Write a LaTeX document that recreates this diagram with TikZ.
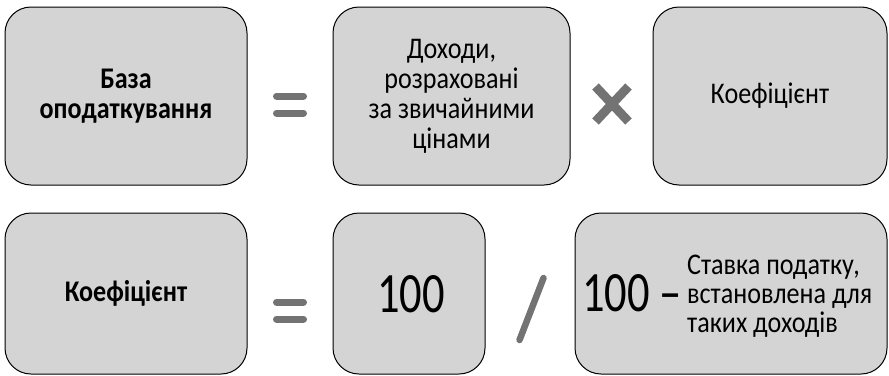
\documentclass[tikz,border=0pt]{standalone}
\usepackage{fontspec}
\setmainfont{Carlito}[FakeStretch=0.87]
\newfontfamily\digfont{Carlito}[FakeStretch=0.78]
\definecolor{boxfill}{RGB}{212,212,212}
\definecolor{opgray}{RGB}{115,115,115}
\begin{document}
\begin{tikzpicture}[x=1pt,y=-1pt,
  box/.style={draw=black, line width=1pt, fill=boxfill, rounded corners=26pt,
    inner sep=0pt, align=center, font=\fontsize{30}{30}\selectfont},
  boldtxt/.style={font=\fontsize{30}{30}\selectfont\bfseries},
  bigdig/.style={inner sep=0pt, font=\digfont\fontsize{57}{57}\selectfont},
  eqbar/.style={draw=opgray, line width=7pt, line cap=round},
  times/.style={draw=opgray, line width=9pt, line cap=butt},
  slash/.style={draw=opgray, line width=6.5pt, line cap=round}]
\useasboundingbox (0,0) rectangle (889,375);
% top row
\node[box, boldtxt, minimum width=242pt, minimum height=178pt] (A) at (126,96) {База\\оподаткування};
\node[box, minimum width=237pt, minimum height=178pt] (B) at (451.5,96) {Доходи,\\розраховані\\за звичайними\\цінами};
\node[box, minimum width=234pt, minimum height=178pt] (C) at (770,96) {Коефіцієнт};
% bottom row
\node[box, boldtxt, minimum width=242pt, minimum height=161pt] (D) at (126,293.5) {Коефіцієнт};
\node[box, minimum width=152pt, minimum height=161pt] (E) at (409,293.5) {};
\node[bigdig] (E100) at (411,294) {100};
\node[box, minimum width=312pt, minimum height=161pt] (F) at (731,293.5) {};
\node[bigdig, anchor=west] (F100) at (582,293.5) {100 –};
\node[anchor=west, inner sep=0pt, align=left, font=\fontsize{30}{29}\selectfont] (Ftxt) at (687,296) {Ставка податку,\\встановлена для\\таких доходів};
% operators
\draw[eqbar] (276.5,96) -- (303.5,96);
\draw[eqbar] (276.5,113) -- (303.5,113);
\draw[eqbar] (276.5,302) -- (303.5,302);
\draw[eqbar] (276.5,319) -- (303.5,319);
\draw[times] (595.5,86.5) -- (628.5,121.5);
\draw[times] (628.5,86.5) -- (595.5,121.5);
\draw[slash] (519.5,340) -- (543.5,278);
\end{tikzpicture}
\end{document}
